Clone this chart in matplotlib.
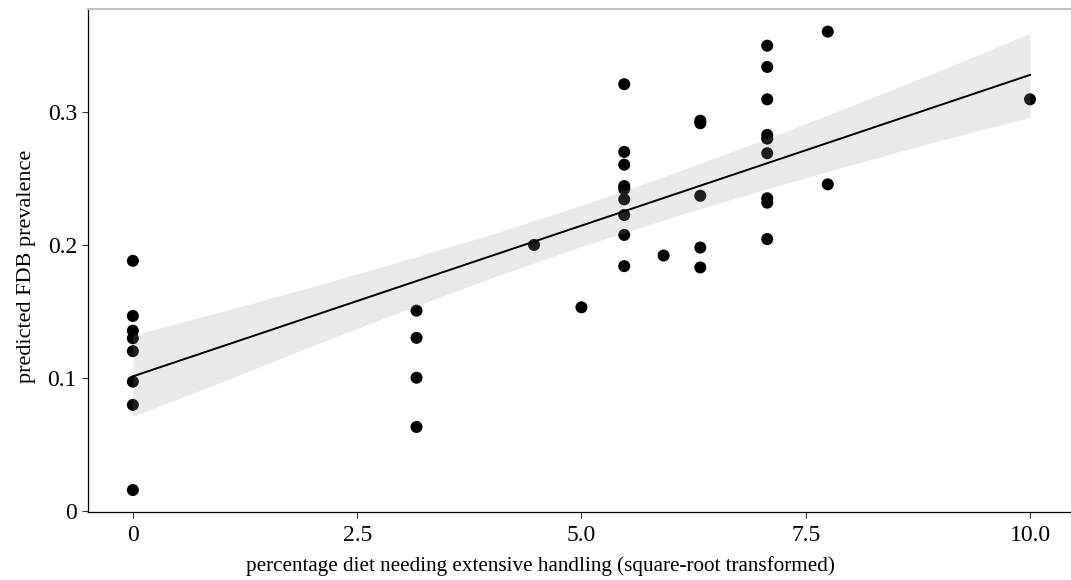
import numpy as np
import matplotlib
matplotlib.use("Agg")
import matplotlib.pyplot as plt

# points (x = sqrt of percentage diet)
diet_x = [0, 0, 0, 0, 0, 0, 0, 0,
          3.162, 3.162, 3.162, 3.162,
          4.472, 5.0,
          5.477, 5.477, 5.477, 5.477, 5.477, 5.477, 5.477, 5.477, 5.477,
          5.916,
          6.325, 6.325, 6.325, 6.325, 6.325,
          7.071, 7.071, 7.071, 7.071, 7.071, 7.071, 7.071, 7.071, 7.071,
          7.746, 7.746,
          10.0]
fdb_y = [0.188, 0.1465, 0.1354, 0.1297, 0.120, 0.097, 0.0795, 0.0154,
         0.1505, 0.130, 0.100, 0.0629,
         0.200, 0.153,
         0.321, 0.270, 0.2604, 0.2443, 0.242, 0.2343, 0.2225, 0.2075, 0.184,
         0.192,
         0.2935, 0.2916, 0.237, 0.198, 0.183,
         0.350, 0.334, 0.3096, 0.2828, 0.280, 0.269, 0.2351, 0.2318, 0.2044,
         0.3606, 0.2456,
         0.3096]

# fitted line and confidence band
fit_x = [0, 10]
fit_y = [0.101, 0.328]
band_x = [0, 1, 2, 3, 4, 5, 6, 7, 8, 9, 10]
band_hi = [0.132, 0.150, 0.1685, 0.188, 0.208, 0.2298, 0.2534, 0.2784, 0.3045, 0.3313, 0.3594]
band_lo = [0.071, 0.097, 0.1241, 0.150, 0.1752, 0.1988, 0.2206, 0.2408, 0.2601, 0.2787, 0.296]

xticks = [0, 2.5, 5.0, 7.5, 10.0]
xtick_labels = ["0", "2.5", "5.0", "7.5", "10.0"]
yticks = [0, 0.1, 0.2, 0.3]
ytick_labels = ["0", "0.1", "0.2", "0.3"]

plt.rcParams['font.family'] = ['Liberation Serif', 'DejaVu Serif']

fig = plt.figure(figsize=(10.71, 5.8), dpi=100)
ax = fig.add_axes([88 / 1071, 1 - 511.5 / 580, 1 - 88 / 1071, (511.5 - 8.5) / 580])

ax.scatter(diet_x, fdb_y, s=75, color="black", edgecolors="none", zorder=2)
ax.fill_between(band_x, band_lo, band_hi, color="#999999", alpha=0.2, linewidth=0, zorder=3)
ax.plot(fit_x, fit_y, color="black", linewidth=1.4, zorder=4)

ax.set_xlim(-0.5, 10.457)
ax.set_ylim(-0.00075, 0.378)

ax.set_xticks(xticks)
ax.set_xticklabels(xtick_labels)
ax.set_yticks(yticks)
ax.set_yticklabels(ytick_labels)
ax.tick_params(axis="both", labelsize=17, length=4, width=0.8, color="#333333")
ax.tick_params(axis="x", pad=6)
ax.tick_params(axis="y", pad=4)

for side in ["left", "bottom"]:
    ax.spines[side].set_color("black")
    ax.spines[side].set_linewidth(0.9)
ax.spines["top"].set_color("#bebebe")
ax.spines["top"].set_linewidth(1.5)
ax.spines["right"].set_visible(False)

ax.set_xlabel("percentage diet needing extensive handling (square-root transformed)", fontsize=15.2)
ax.xaxis.set_label_coords((540 - 88) / 983, -(566 - 511.5) / 503, transform=ax.transAxes)
ax.xaxis.label.set_va("center")
ax.set_ylabel("predicted FDB prevalence", fontsize=16)
ax.yaxis.set_label_coords(-(88 - 27) / 983, (511.5 - 266) / 503, transform=ax.transAxes)
ax.yaxis.label.set_va("center")

fig.savefig("out.png", dpi=100)
